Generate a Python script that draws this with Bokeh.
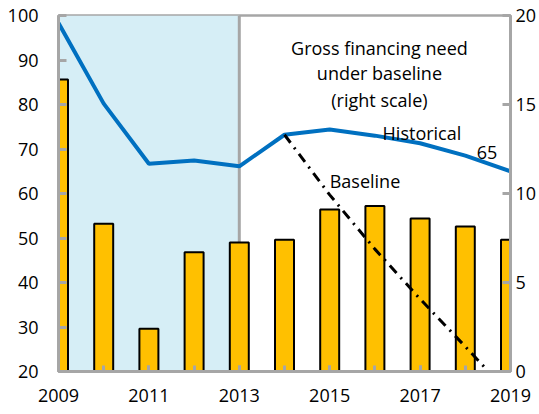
from bokeh.plotting import figure
from bokeh.models import Range1d, LinearAxis, FixedTicker, BoxAnnotation, Span, ColumnDataSource
from bokeh.core.properties import value
from bokeh.embed import file_html
from bokeh.resources import INLINE

years = [2009, 2010, 2011, 2012, 2013, 2014, 2015, 2016, 2017, 2018, 2019]
gfn_baseline = [16.4, 8.3, 2.4, 6.7, 7.25, 7.4, 9.1, 9.3, 8.6, 8.15, 7.4]   # right scale
historical = [98.3, 80.2, 66.7, 67.4, 66.1, 73.2, 74.4, 73.0, 71.3, 68.5, 65.0]  # left scale
base_years = [2014, 2015, 2016, 2017, 2018, 2019]
baseline = [73.2, 59.7, 47.5, 36.3, 25.6, 14.7]
left_ticks = [20, 30, 40, 50, 60, 70, 80, 90, 100]
right_ticks = [0, 5, 10, 15, 20]
x_label_ticks = [2009, 2011, 2013, 2015, 2017, 2019]

FONT = "Open Sans"
FS = "18px"
GRAY = "#A6A6A6"

p = figure(width=539, height=414, output_backend="svg", toolbar_location=None,
           x_range=Range1d(2009, 2019), y_range=Range1d(20, 100),
           min_border_left=58, min_border_right=28, min_border_top=15, min_border_bottom=43)
p.extra_y_ranges = {"right": Range1d(0, 20)}
p.grid.visible = False
p.background_fill_color = "white"
p.outline_line_color = GRAY
p.outline_line_width = 2.5

# shaded historical region and separator
p.add_layout(BoxAnnotation(left=2009, right=2013, fill_color="#D6EEF6", fill_alpha=1.0,
                           line_alpha=0, level="underlay"))
p.add_layout(Span(location=2013, dimension="height", line_color=GRAY, line_width=3, level="underlay"))

src = ColumnDataSource(dict(x=years, gfn=gfn_baseline, hist=historical))
p.vbar(x="x", top="gfn", bottom=0, width=0.42, source=src, y_range_name="right",
       fill_color="#FFC000", line_color="black", line_width=2)
p.line(x="x", y="hist", source=src, line_color="#0070C0", line_width=4)
p.line(x=base_years, y=baseline, line_color="black", line_width=3, line_dash="10 6 2 6")

# annotations
p.text(x=[2016.1] * 3, y=[92.8, 87.0, 80.9],
       text=["Gross financing need", "under baseline", "(right scale)"],
       text_font=value(FONT), text_font_size=FS, text_align="center",
       text_baseline="middle", text_color="black")
p.text(x=[2016.17], y=[73.6], text=["Historical"], text_font=value(FONT), text_font_size=FS,
       text_align="left", text_baseline="middle", text_color="black")
p.text(x=[2015.0], y=[62.9], text=["Baseline"], text_font=value(FONT), text_font_size=FS,
       text_align="left", text_baseline="middle", text_color="black")
p.text(x=[2018.48], y=[69.2], text=["65"], text_font=value(FONT), text_font_size=FS,
       text_align="center", text_baseline="middle", text_color="black")

def style(ax, standoff):
    ax.axis_line_color = GRAY
    ax.axis_line_width = 3
    ax.major_tick_line_color = GRAY
    ax.major_tick_line_width = 3
    ax.major_tick_in = 8
    ax.major_tick_out = 0
    ax.minor_tick_line_color = GRAY
    ax.minor_tick_line_width = 3
    ax.minor_tick_in = 6
    ax.minor_tick_out = 0
    ax.major_label_text_font = FONT
    ax.major_label_text_font_size = FS
    ax.major_label_text_color = "black"
    ax.major_label_standoff = standoff

xa = p.xaxis[0]
xa.ticker = FixedTicker(ticks=x_label_ticks, minor_ticks=years)
style(xa, 17)
xa.major_tick_in = 6

ya = p.yaxis[0]
ya.ticker = FixedTicker(ticks=left_ticks, minor_ticks=[])
style(ya, 20)

ra = LinearAxis(y_range_name="right", ticker=FixedTicker(ticks=right_ticks, minor_ticks=[]))
style(ra, 5)
p.add_layout(ra, "right")

open("out.html", "w").write(file_html(p, INLINE))
